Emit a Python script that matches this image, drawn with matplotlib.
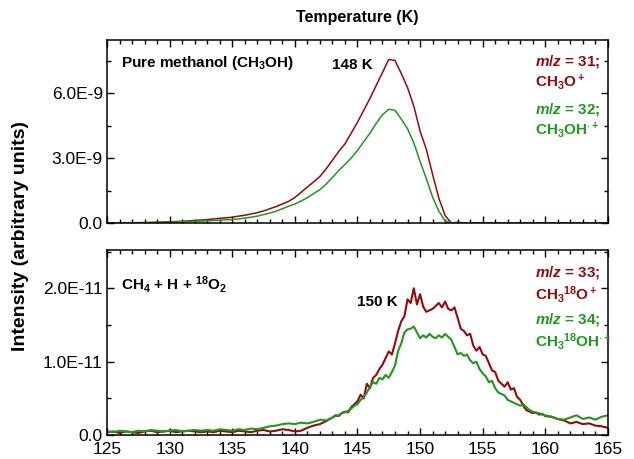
import numpy as np
import matplotlib
matplotlib.use("Agg")
import matplotlib.pyplot as plt
from matplotlib.ticker import MultipleLocator

plt.rcParams["font.family"] = ["Liberation Sans", "DejaVu Sans"]
plt.rcParams["mathtext.fontset"] = "custom"
plt.rcParams["mathtext.rm"] = "Liberation Sans:bold"
plt.rcParams["mathtext.bf"] = "Liberation Sans:bold"
plt.rcParams["mathtext.it"] = "Liberation Sans:italic:bold"

RED = "#950a0a"
GREEN = "#1c9a1c"

# ---- top panel: pure methanol, sampled every 0.5 K (units of 1e-9)
temp_top = np.arange(125, 165.01, 0.5)
mz31 = [
    0.00, 0.00, 0.00, 0.01, 0.01, 0.02, 0.02, 0.03, 0.04, 0.05,
    0.06, 0.07, 0.08, 0.10, 0.12, 0.14, 0.16, 0.19, 0.22, 0.24,
    0.27, 0.32, 0.36, 0.42, 0.48, 0.56, 0.66, 0.76, 0.88, 1.00,
    1.18, 1.42, 1.66, 1.90, 2.15, 2.50, 2.90, 3.30, 3.65, 4.15,
    4.65, 5.20, 5.75, 6.35, 6.95, 7.55, 7.50, 6.90, 6.25, 5.40,
    4.25, 3.40, 2.25, 1.15, 0.35, 0.00, 0.04, 0.01, 0.00,
    0, 0, 0, 0, 0, 0, 0, 0, 0, 0, 0, 0, 0, 0, 0, 0, 0, 0, 0, 0, 0, 0,
]
mz32 = [
    0.00, 0.00, 0.00, 0.00, 0.01, 0.01, 0.02, 0.02, 0.03, 0.03,
    0.04, 0.05, 0.06, 0.07, 0.08, 0.09, 0.10, 0.12, 0.13, 0.15,
    0.16, 0.19, 0.23, 0.27, 0.32, 0.39, 0.46, 0.55, 0.66, 0.78,
    0.88, 1.02, 1.17, 1.36, 1.54, 1.80, 2.10, 2.42, 2.70, 3.00,
    3.35, 3.75, 4.15, 4.60, 5.00, 5.25, 5.20, 4.80, 4.35, 3.70,
    2.85, 2.05, 1.20, 0.55, 0.10, 0.00, 0.00, 0.00, 0.00,
    0, 0, 0, 0, 0, 0, 0, 0, 0, 0, 0, 0, 0, 0, 0, 0, 0, 0, 0, 0, 0, 0,
]

# ---- bottom panel: CH4 + H + 18O2 (units of 1e-11)
temp_bot = np.concatenate([
    np.arange(125, 142.6, 0.5),
    np.arange(143, 160.01, 0.25),
    np.arange(160.5, 165.01, 0.5),
])
mz33 = [
    0.04, 0.05, 0.03, 0.05, 0.04, 0.03, 0.05, 0.06, 0.04, 0.05,
    0.06, 0.04, 0.05, 0.06, 0.05, 0.04, 0.05, 0.04, 0.06, 0.05,
    0.04, 0.06, 0.05, 0.04, 0.06, 0.07, 0.05, 0.06, 0.08, 0.07,
    0.05, 0.06, 0.10, 0.13, 0.15, 0.19,
    0.24, 0.27, 0.26, 0.30,
    0.32, 0.31, 0.38, 0.42,
    0.46, 0.55, 0.50, 0.70,
    0.64, 0.78, 0.82, 0.90,
    0.96, 1.05, 1.14, 1.10,
    1.25, 1.42, 1.55, 1.62,
    1.85, 1.80, 2.00, 1.78,
    1.92, 1.75, 1.68, 1.70,
    1.72, 1.76, 1.80, 1.74,
    1.82, 1.72, 1.70, 1.74,
    1.60, 1.45, 1.42, 1.36,
    1.38, 1.22, 1.15, 1.20,
    1.10, 1.08, 0.98, 0.88,
    0.86, 0.74, 0.70, 0.66,
    0.72, 0.62, 0.64, 0.52,
    0.48, 0.40, 0.34, 0.32,
    0.30, 0.31, 0.28, 0.29,
    0.26,
    0.25, 0.22, 0.20, 0.16, 0.18, 0.15, 0.16, 0.13, 0.12, 0.10,
]
mz34 = [
    0.05, 0.04, 0.06, 0.05, 0.04, 0.06, 0.05, 0.07, 0.06, 0.05,
    0.06, 0.07, 0.05, 0.06, 0.07, 0.06, 0.07, 0.06, 0.08, 0.07,
    0.06, 0.08, 0.07, 0.09, 0.08, 0.10, 0.12, 0.13, 0.15, 0.16,
    0.15, 0.17, 0.16, 0.18, 0.21, 0.20,
    0.24, 0.26, 0.27, 0.30,
    0.31, 0.33, 0.36, 0.40,
    0.42, 0.48, 0.52, 0.58,
    0.66, 0.72, 0.70, 0.78,
    0.76, 0.82, 0.78, 0.86,
    0.95, 1.15, 1.25, 1.40,
    1.44, 1.45, 1.48, 1.40,
    1.32, 1.36, 1.33, 1.38,
    1.34, 1.32, 1.36, 1.33,
    1.38, 1.34, 1.30, 1.20,
    1.10, 1.12, 1.08, 1.10,
    1.02, 0.98, 1.00, 0.90,
    0.84, 0.80, 0.72, 0.74,
    0.64, 0.58, 0.56, 0.54,
    0.48, 0.46, 0.44, 0.42,
    0.40, 0.42, 0.38, 0.34,
    0.32, 0.30, 0.30, 0.28,
    0.27,
    0.25, 0.22, 0.21, 0.24, 0.27, 0.22, 0.24, 0.21, 0.25, 0.27,
]

top_ticks = [0, 3e-9, 6e-9]
top_ticklabels = ["0.0", "3.0E-9", "6.0E-9"]
bot_ticks = [0, 1e-11, 2e-11]
bot_ticklabels = ["0.0", "1.0E-11", "2.0E-11"]
x_ticks = [125, 130, 135, 140, 145, 150, 155, 160, 165]

fig = plt.figure(figsize=(6.34, 4.59), dpi=100)
ax1 = fig.add_axes([0.1688, 0.514, 0.790, 0.399])
ax2 = fig.add_axes([0.1688, 0.052, 0.790, 0.403])

ax1.plot(temp_top, np.array(mz31) * 1e-9, color=RED, linewidth=1.1)
ax1.plot(temp_top, np.array(mz32) * 1e-9, color=GREEN, linewidth=1.1)
ax2.plot(temp_bot, np.array(mz33) * 1e-11, color=RED, linewidth=1.5)
ax2.plot(temp_bot, np.array(mz34) * 1e-11, color=GREEN, linewidth=1.5)

for ax in (ax1, ax2):
    ax.set_xlim(125, 165)
    ax.set_xticks(x_ticks)
    ax.xaxis.set_minor_locator(MultipleLocator(1))
    ax.tick_params(which="both", direction="in", top=True, right=True,
                   width=1, labelsize=12.5, pad=3)
    ax.tick_params(which="major", length=5)
    ax.tick_params(which="minor", length=3)
    for s in ax.spines.values():
        s.set_linewidth(1.1)

ax1.set_ylim(0, 8.45e-9)
ax1.set_yticks(top_ticks, labels=top_ticklabels)
ax1.yaxis.set_minor_locator(MultipleLocator(1.5e-9))
ax1.tick_params(axis="x", labelbottom=False)

ax2.set_ylim(0, 2.52e-11)
ax2.set_yticks(bot_ticks, labels=bot_ticklabels)
ax2.yaxis.set_minor_locator(MultipleLocator(0.5e-11))
ax2.tick_params(axis="x", pad=5)

fs = 11
xr = 159.2
ax1.text(126.1, 7.4e-9, r"Pure methanol (CH$_3$OH)", fontsize=fs,
         fontweight="bold", va="center")
ax1.text(144.6, 7.3e-9, "148 K", fontsize=fs, fontweight="bold",
         ha="center", va="center")
ax1.text(xr, 7.45e-9, r"$\mathit{m/z}$ = 31;", color=RED, fontsize=fs,
         fontweight="bold", va="center")
ax1.text(xr, 6.5e-9, r"CH$_3$O$^+$", color=RED, fontsize=fs,
         fontweight="bold", va="center")
ax1.text(xr, 5.23e-9, r"$\mathit{m/z}$ = 32;", color=GREEN, fontsize=fs,
         fontweight="bold", va="center")
ax1.text(xr, 4.3e-9, r"CH$_3$OH$^{\cdot+}$", color=GREEN, fontsize=fs,
         fontweight="bold", va="center")

ax2.text(126.1, 2.05e-11, r"CH$_4$ + H + $^{18}$O$_2$", fontsize=fs,
         fontweight="bold", va="center")
ax2.text(146.6, 1.82e-11, "150 K", fontsize=fs, fontweight="bold",
         ha="center", va="center")
ax2.text(xr, 2.21e-11, r"$\mathit{m/z}$ = 33;", color=RED, fontsize=fs,
         fontweight="bold", va="center")
ax2.text(xr, 1.91e-11, r"CH$_3{}^{18}$O$^+$", color=RED, fontsize=fs,
         fontweight="bold", va="center")
ax2.text(xr, 1.58e-11, r"$\mathit{m/z}$ = 34;", color=GREEN, fontsize=fs,
         fontweight="bold", va="center")
ax2.text(xr, 1.28e-11, r"CH$_3{}^{18}$OH$^{\cdot+}$", color=GREEN,
         fontsize=fs, fontweight="bold", va="center")

fig.text(0.564, 0.961, "Temperature (K)", fontsize=11.5, fontweight="bold",
         ha="center", va="center")
fig.text(0.032, 0.485, "Intensity (arbitrary units)", fontsize=14,
         fontweight="bold", rotation=90, ha="center", va="center")

fig.savefig("out.png", dpi=100)
